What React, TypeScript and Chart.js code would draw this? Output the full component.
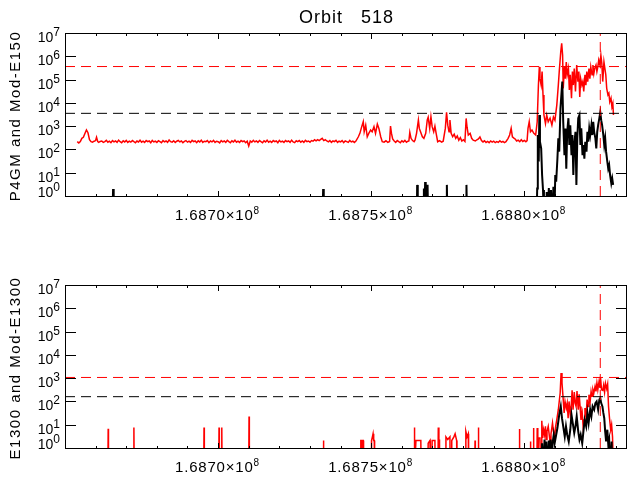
import { useEffect, useRef } from 'react';
import { Chart, registerables } from 'chart.js';

Chart.register(...registerables);

// ---------- axis data ----------
const T0 = 168650000; // seconds; time offsets below are in kiloseconds from T0
const X_MIN = 168650000;
const X_MAX = 168833200;
const Y_MIN = 1;
const Y_MAX = 1e7;

const xTickValues = [
  168660000, 168670000, 168680000, 168690000, 168700000, 168710000, 168720000, 168730000, 168740000,
  168750000, 168760000, 168770000, 168780000, 168790000, 168800000, 168810000, 168820000, 168830000,
];
const xMajorTicks = [168700000, 168750000, 168800000];
const xMajorMantissa = ['1.6870×10', '1.6875×10', '1.6880×10'];
const xMajorExponent = ['8', '8', '8'];

const yTickValues = [1, 10, 100, 1e3, 1e4, 1e5, 1e6, 1e7];
const yTickBase = '10';
const yTickExponent = ['0', '1', '2', '3', '4', '5', '6', '7'];

const plotTitle = 'Orbit   518';
const topYTitle = 'P4GM and Mod-E150';
const bottomYTitle = 'E1300 and Mod-E1300';

// ---------- thresholds ----------
const topRedLevel = 3.63e5;
const topBlackLevel = 3.55e3;
const bottomRedLevel = 1.07e3;
const bottomBlackLevel = 160;
const eventTime = 168824800;

// ---------- series: [time offset (ks), value] ----------
const topRed: [number, number][] = [
  [4.0, 215], [4.5, 190], [5.0, 220], [5.5, 300], [6.0, 330], [6.5, 480], [7.0, 680], [7.5, 520], [8.0, 260],
  [8.5, 215], [9.0, 205], [9.5, 225], [10.0, 240], [10.3, 330], [10.7, 215], [11.0, 200], [11.5, 220],
  [12, 230], [12.5, 200], [13, 215], [13.5, 245], [14, 205], [14.5, 225], [15, 195], [15.5, 240], [16, 210], [16.5, 230],
  [17, 200], [17.5, 250], [18, 215], [18.5, 195], [19, 235], [19.5, 210], [20, 245], [20.5, 200], [21, 225], [21.5, 205],
  [22, 240], [22.5, 215], [23, 195], [23.5, 230], [24, 210], [24.5, 250], [25, 205], [25.5, 225], [26, 200], [26.5, 240],
  [27, 215], [27.5, 230], [28, 195], [28.5, 245], [29, 210], [29.5, 225], [30, 200], [30.5, 235], [31, 215], [31.5, 195],
  [32, 240], [32.5, 210], [33, 230], [33.5, 200], [34, 255], [34.5, 215], [35, 205], [35.5, 235], [36, 200], [36.5, 225],
  [37, 245], [37.5, 210], [38, 230], [38.5, 195], [39, 220], [39.5, 240], [40, 205], [40.5, 225], [41, 200], [41.5, 245],
  [42, 215], [42.5, 230], [43, 195], [43.5, 235], [44, 210], [44.5, 250], [45, 200], [45.5, 225], [46, 215], [46.5, 240],
  [47, 195], [47.5, 230], [48, 210], [48.5, 245], [49, 200], [49.5, 225], [50, 215], [50.5, 190], [51, 240], [51.5, 210],
  [52, 230], [52.5, 200], [53, 245], [53.5, 215], [54, 195], [54.5, 235], [55, 210], [55.5, 250], [56, 205], [56.5, 225],
  [57, 200], [57.5, 240], [58, 215], [58.5, 230], [59, 195], [59.5, 225], [60, 140], [60.5, 230], [61, 205], [61.5, 245],
  [62, 210], [62.5, 230], [63, 200], [63.5, 240], [64, 215], [64.5, 195], [65, 235], [65.5, 210], [66, 250], [66.5, 205],
  [67, 225], [67.5, 200], [68, 240], [68.5, 215], [69, 230], [69.5, 195], [70, 245], [70.5, 210], [71, 225], [71.5, 200],
  [72, 240], [72.5, 215], [73, 230], [73.5, 200], [74, 250], [74.5, 210], [75, 195], [75.5, 235], [76, 215], [76.5, 240],
  [77, 205], [77.5, 230], [78, 200], [78.5, 245], [79, 215], [79.5, 230], [80, 205], [80.5, 240], [81, 225], [81.5, 260],
  [82, 235], [82.5, 265], [83, 240], [83.5, 270], [84, 300], [84.5, 240], [85, 260], [85.5, 230], [86, 210], [86.5, 240],
  [87, 200], [87.5, 230], [88, 215], [88.5, 245], [89, 200], [89.5, 225], [90, 210], [90.5, 240], [91, 195], [91.5, 230],
  [92, 215], [92.5, 200], [93, 245], [93.5, 210], [94, 225], [94.5, 200], [95, 230],
  [95.8, 350], [96.3, 490], [96.9, 950], [97.4, 1550], [97.7, 570], [98.2, 1100], [98.7, 350], [99.2, 490],
  [99.8, 680], [100.3, 570], [100.9, 950], [101.4, 490], [102.0, 1235], [102.5, 800], [103.1, 350],
  [103.6, 215], [104.2, 205], [104.8, 235], [105.4, 200], [106.0, 220], [106.3, 1000], [106.6, 500],
  [107.0, 280], [107.5, 230], [108, 200], [108.5, 240], [109, 215], [109.5, 195], [110, 235], [110.5, 210],
  [111, 245], [111.5, 205], [112, 225], [112.3, 230], [112.6, 540], [113.0, 300], [113.5, 240], [114.0, 215],
  [114.3, 250], [114.8, 490], [115.4, 1834], [115.7, 800], [116.1, 570], [116.7, 350], [117.2, 300],
  [117.8, 490], [118.3, 1834], [118.6, 2400], [119.1, 800], [119.5, 2500], [119.9, 950], [120.4, 570],
  [120.8, 1000], [121.2, 490], [121.7, 215], [122.3, 240], [123, 205], [123.5, 225], [124.2, 800],
  [124.6, 3900], [125.0, 1100], [125.4, 570], [125.7, 1834], [126.1, 490], [126.6, 350], [127.1, 450],
  [127.6, 300], [128.1, 380], [128.6, 250], [129.1, 320], [129.6, 230], [130.1, 260], [130.6, 220],
  [131.0, 2140], [131.3, 900], [131.7, 415], [132.3, 490], [132.8, 300], [133.3, 250], [134, 230],
  [134.5, 260], [135, 280], [135.5, 340], [136, 240], [136.5, 210], [137, 235], [137.5, 200], [138, 220],
  [138.5, 195], [139, 230], [139.5, 205], [140, 225], [140.5, 195], [141, 215], [141.5, 200], [142, 235],
  [142.5, 205], [143, 220], [143.5, 195], [144, 215], [144.7, 300], [145.2, 415], [145.7, 800], [146.1, 350],
  [146.7, 300], [147, 280], [147.5, 230], [148, 250], [148.5, 215], [149, 260], [149.5, 220], [150, 245],
  [150.5, 215], [150.9, 240], [151.2, 800], [151.6, 1540], [152.0, 570], [152.5, 680], [153.1, 490],
  [153.7, 415], [154.2, 1540], [154.6, 5.8e4], [154.9, 3.5e5], [155.1, 1.1e5], [155.5, 5.8e4], [155.8, 2.2e5],
  [156.1, 2.2e4], [156.4, 3000], [156.9, 1300], [157.3, 3000], [157.8, 1540], [158.4, 2200], [159.0, 1100],
  [159.5, 2500], [160.0, 1800], [160.6, 8000], [161.1, 5.8e4], [161.4, 2.2e5], [161.9, 1.6e6],
  [162.2, 3.6e6], [162.5, 1.1e6], [162.7, 4.2e4], [163.1, 3.5e5], [163.4, 1.1e5], [163.7, 5.7e5],
  [164.0, 1.6e5], [164.4, 3e5], [164.7, 3.6e4], [165.0, 1.6e5], [165.4, 1.6e4], [165.7, 2.2e5],
  [166.0, 5.8e4], [166.3, 3e5], [166.7, 3.1e4], [167.1, 4.2e5], [167.5, 8.2e4], [167.8, 2.2e5],
  [168.1, 1.8e4], [168.4, 1.1e5], [168.8, 5.8e4], [169.1, 8.2e4], [169.4, 3.1e4], [169.8, 1.6e5],
  [170.1, 5.8e4], [170.4, 2.2e5], [170.7, 8.2e4], [171.1, 3e5], [171.4, 1.1e5], [171.7, 3.5e5],
  [172.1, 1.6e5], [172.4, 4.2e5], [172.7, 1.8e5], [173.0, 3e5], [173.4, 4.2e5], [173.7, 2.2e5],
  [174.0, 3.5e5], [174.3, 6.9e5], [174.7, 4.2e5], [175.0, 1.1e6], [175.3, 5e5], [175.6, 8.2e4],
  [176.0, 5.7e5], [176.3, 3e5], [176.6, 1.6e5], [176.9, 4.2e4], [177.3, 2.2e4], [177.6, 2.6e4],
  [177.9, 1.1e4], [178.3, 1.6e4], [178.6, 6800], [178.9, 9600], [179.1, 3000],
];

const topBlack: [number, number][] = [
  [4, 0.1], [15.5, 0.1], [15.7, 2], [15.9, 0.1], [84.1, 0.1], [84.3, 2], [84.5, 0.1], [114.9, 0.1],
  [115.0, 3], [115.2, 0.1], [117.0, 0.1], [117.2, 2.1], [117.4, 0.1], [117.6, 4], [117.8, 0.1], [118.0, 2.1],
  [118.2, 0.1], [118.4, 3], [118.6, 0.1], [124.5, 0.1], [124.7, 3], [124.9, 0.1], [131.0, 0.1], [131.1, 3],
  [131.3, 0.1], [154.0, 0.1], [154.2, 2.1], [154.4, 415], [154.7, 30], [154.9, 3000], [155.1, 215],
  [155.5, 110], [155.8, 8], [156.1, 1.8], [156.4, 0.1], [157.1, 0.1], [157.3, 1.5], [157.6, 0.1],
  [158.0, 2.2], [158.4, 0.1], [158.7, 1.8], [159.0, 0.1], [159.5, 2.5], [159.8, 0.1], [160.1, 8],
  [160.4, 4.1], [160.8, 40], [161.1, 300], [161.4, 80], [161.8, 5800], [162.1, 2.2e4], [162.4, 8.2e4],
  [162.7, 1540], [163.1, 57], [163.4, 800], [163.7, 15], [164.0, 570], [164.4, 2200], [164.7, 155],
  [165.0, 1100], [165.4, 57], [165.7, 415], [166.0, 8], [166.3, 155], [166.7, 570], [167.0, 3],
  [167.3, 300], [167.6, 2200], [168.0, 3000], [168.3, 155], [168.6, 800], [169.0, 57], [169.3, 155],
  [169.6, 40], [169.9, 215], [170.3, 80], [170.6, 570], [170.9, 215], [171.2, 800], [171.5, 415],
  [171.9, 1100], [172.2, 415], [172.5, 1540], [172.8, 570], [173.2, 300], [173.5, 110], [173.8, 570],
  [174.1, 1100], [174.5, 2200], [174.8, 3900], [175.1, 1800], [175.4, 1100], [175.8, 415], [176.1, 155],
  [176.4, 300], [176.7, 80], [177.1, 30], [177.4, 15], [177.7, 21], [178.0, 8], [178.4, 3.5], [178.7, 5.7],
  [179.0, 3],
];

const bottomRed: [number, number][] = [
  [4, 0.1], [14.0, 0.1], [14.1, 6.7], [14.2, 0.1], [22.4, 0.1], [22.5, 7.5], [22.6, 0.1], [45.3, 0.1],
  [45.4, 7.5], [45.5, 0.1], [50.2, 0.1], [50.3, 7.5], [50.4, 0.1], [51.1, 0.1], [51.2, 7.5], [51.3, 0.1],
  [60.0, 0.1], [60.1, 22.7], [60.2, 0.1], [84.3, 0.1], [84.4, 2.1], [84.5, 0.1],
  [96.5, 0.1], [96.6, 2.1], [96.9, 2.1], [97.0, 0.1], [97.2, 2.1], [97.4, 2.1], [97.5, 0.1],
  [100.0, 0.1], [100.1, 2.1], [100.4, 3.1], [100.6, 4.1], [100.8, 2.1], [101.0, 2.1], [101.1, 0.1],
  [114.0, 0.1], [114.1, 7.5], [114.2, 0.1], [114.6, 2.1], [116.2, 2.1], [116.3, 0.1],
  [118.5, 0.1], [118.6, 1.6], [119.2, 2.1], [119.3, 0.1], [119.8, 0.1], [119.9, 2.1], [120.8, 2.1],
  [120.9, 0.1], [121.8, 0.1], [121.9, 7.5], [122.1, 0.1], [122.2, 2.3], [122.3, 0.1],
  [124.3, 0.1], [124.4, 3.0], [125.0, 2.3], [125.7, 3.0], [125.8, 0.1], [126.2, 0.1], [126.3, 2.1],
  [127.0, 3.0], [127.4, 4.1], [127.9, 2.1], [128.0, 0.1], [130.8, 0.1], [130.9, 5.2], [131.3, 3.0],
  [131.7, 4.1], [131.8, 0.1], [133.8, 0.1], [133.9, 2.1], [134.0, 0.1], [134.9, 0.1], [135.0, 7.5],
  [135.1, 0.1], [148.3, 0.1], [148.4, 6.5], [148.5, 0.1], [151.9, 0.1], [152.0, 1.9], [152.1, 0.1],
  [152.9, 0.1], [153.0, 7.2], [153.1, 0.1], [154.1, 0.1], [154.2, 7.2], [154.4, 0.1], [154.6, 2.7],
  [155.1, 2.7], [155.3, 0.1], [155.6, 0.1], [155.7, 14.9], [156.0, 2.7], [156.3, 6.1], [156.6, 3.7],
  [156.9, 8.5], [157.1, 2.3], [157.4, 5.2], [157.8, 8.5], [158.2, 3.1], [158.5, 1.5], [158.7, 4],
  [159.2, 11.8], [159.5, 5.2], [159.9, 3.1], [160.2, 8], [160.6, 16.4], [161.1, 44], [161.7, 230],
  [162.0, 1650], [162.3, 620], [162.7, 120], [163.0, 32], [163.3, 100], [163.7, 52], [164.0, 85],
  [164.3, 19], [164.6, 100], [165.0, 27], [165.3, 61], [165.6, 300], [165.9, 44], [166.3, 250],
  [166.6, 85], [166.9, 61], [167.2, 280], [167.6, 44], [167.9, 200], [168.2, 61], [168.5, 16],
  [168.9, 32], [169.2, 8.5], [169.5, 16], [169.8, 52], [170.2, 27], [170.5, 120], [170.8, 61],
  [171.1, 195], [171.5, 100], [171.8, 270], [172.1, 165], [172.4, 320], [172.7, 230], [173.1, 440],
  [173.4, 270], [173.7, 620], [174.0, 320], [174.4, 720], [174.7, 380], [174.9, 1000], [175.2, 320],
  [175.6, 300], [175.9, 500], [176.2, 250], [176.5, 600], [176.9, 350], [177.2, 550], [177.5, 60],
  [177.8, 20], [178.2, 6], [178.5, 10], [178.8, 3], [179.1, 0.1],
];

const bottomBlack: [number, number][] = [
  [4, 0.1], [155.7, 0.1], [155.8, 1.6], [156.2, 0.1], [156.6, 2.3], [156.9, 0.1], [157.2, 1.9],
  [157.6, 0.1], [158.0, 2.1], [158.3, 0.1], [158.6, 2.3], [158.9, 0.1], [159.2, 1.5], [159.6, 3.7],
  [159.9, 1.6], [160.8, 7.2], [161.4, 27], [161.9, 61], [162.3, 19], [162.7, 8.5], [163.2, 3.1],
  [163.6, 8.5], [164.0, 3.7], [164.5, 1.9], [165.0, 6.1], [165.4, 27], [165.8, 12], [166.3, 4.4],
  [166.7, 8.5], [167.1, 23], [167.6, 5.2], [168.0, 2.3], [168.4, 3.7], [168.9, 1.6], [169.3, 5.2],
  [169.7, 16], [170.2, 8.5], [170.6, 32], [171.0, 12], [171.5, 44], [171.9, 23], [172.3, 61],
  [172.8, 44], [173.2, 85], [173.6, 100], [174.1, 44], [174.5, 120], [174.8, 140], [175.1, 85],
  [175.5, 61], [175.8, 32], [176.1, 19], [176.4, 5.2], [176.7, 1.9], [177.1, 6.1], [177.4, 1.5],
  [177.7, 2.3], [178.0, 0.1], [178.5, 1.9], [178.8, 0.1],
];

// ---------- helpers ----------
const toPoints = (pairs: [number, number][]) => pairs.map(([k, v]) => ({ x: T0 + k * 1000, y: v }));

const hLine = (y: number, color: string) => ({
  data: [{ x: X_MIN, y }, { x: X_MAX, y }],
  borderColor: color,
  borderWidth: 1,
  borderDash: [10, 6],
  pointRadius: 0,
  order: 0,
});
const vLine = (x: number, color: string) => ({
  data: [{ x, y: Y_MIN }, { x, y: Y_MAX }],
  borderColor: color,
  borderWidth: 1,
  borderDash: [10, 6],
  pointRadius: 0,
  order: 0,
});

const FONT = '"Liberation Sans", Arial, sans-serif';

const idlFrame = {
  id: 'idlFrame',
  afterDraw(chart: any, _args: any, opts: any) {
    const { ctx, chartArea } = chart;
    const { left, right, top, bottom } = chartArea;
    const xs = chart.scales.x;
    const ys = chart.scales.y;
    const c = ctx as any;
    ctx.save();
    ctx.strokeStyle = '#000';
    ctx.lineWidth = 1;
    ctx.setLineDash([]);
    ctx.strokeRect(left + 0.5, top + 0.5, right - left, bottom - top);
    ctx.beginPath();
    for (const v of yTickValues) {
      const py = Math.round(ys.getPixelForValue(v)) + 0.5;
      ctx.moveTo(left, py);
      ctx.lineTo(left + 11, py);
      ctx.moveTo(right - 10, py);
      ctx.lineTo(right + 1, py);
    }
    for (const t of xTickValues) {
      const px = Math.round(xs.getPixelForValue(t)) + 0.5;
      const len = xMajorTicks.includes(t) ? 6 : 3;
      ctx.moveTo(px, bottom + 1);
      ctx.lineTo(px, bottom + 1 - len);
      ctx.moveTo(px, top);
      ctx.lineTo(px, top + len);
    }
    ctx.stroke();

    ctx.fillStyle = '#000';

    // y tick labels: 10 with raised exponent
    ctx.textBaseline = 'alphabetic';
    ctx.textAlign = 'right';
    c.letterSpacing = '0px';
    yTickValues.forEach((v, i) => {
      const py = ys.getPixelForValue(v);
      let base = Math.round(py + 9);
      if (base > bottom + 1) base = bottom + 1;
      const xr = left - 5;
      ctx.font = `12px ${FONT}`;
      const ew = ctx.measureText(yTickExponent[i]).width;
      ctx.fillText(yTickExponent[i], xr, base - 6);
      ctx.font = `14px ${FONT}`;
      ctx.fillText(yTickBase, xr - ew, base);
    });

    // x tick labels: mantissa×10 with raised exponent
    ctx.textAlign = 'left';
    xMajorTicks.forEach((t, i) => {
      const px = xs.getPixelForValue(t);
      const base = bottom + 24;
      ctx.font = `15px ${FONT}`;
      c.letterSpacing = '0.8px';
      const mw = ctx.measureText(xMajorMantissa[i]).width;
      ctx.font = `10px ${FONT}`;
      c.letterSpacing = '0px';
      const ew = ctx.measureText(xMajorExponent[i]).width;
      const x0 = px - 1 - (mw + ew) / 2;
      ctx.font = `15px ${FONT}`;
      c.letterSpacing = '0.8px';
      ctx.fillText(xMajorMantissa[i], x0, base);
      ctx.font = `10px ${FONT}`;
      c.letterSpacing = '0px';
      ctx.fillText(xMajorExponent[i], x0 + mw, base - 6);
    });

    ctx.textBaseline = 'middle';
    ctx.textAlign = 'center';
    if (opts.title) {
      ctx.font = `18px ${FONT}`;
      c.letterSpacing = '1px';
      ctx.fillText(opts.title, (left + right) / 2 + 1, 18);
    }
    if (opts.yTitle) {
      ctx.font = `15px ${FONT}`;
      c.letterSpacing = '1.5px';
      ctx.translate(16, (top + bottom) / 2 + 1.5);
      ctx.rotate(-Math.PI / 2);
      ctx.fillText(opts.yTitle, 0, 0);
    }
    ctx.restore();
  },
};

function makeConfig(
  red: [number, number][],
  black: [number, number][],
  redLevel: number,
  blackLevel: number,
  padTop: number,
  xAxisHeight: number,
  title: string,
  yTitle: string,
): any {
  return {
    type: 'line',
    data: {
      datasets: [
        hLine(redLevel, '#ff0000'),
        hLine(blackLevel, '#000000'),
        vLine(eventTime, '#ff0000'),
        {
          data: toPoints(black),
          borderColor: '#000000',
          borderWidth: 2,
          pointRadius: 0,
          tension: 0,
          order: 1,
        },
        {
          data: toPoints(red),
          borderColor: '#ff0000',
          borderWidth: 1.5,
          pointRadius: 0,
          tension: 0,
          order: 2,
        },
      ],
    },
    options: {
      responsive: false,
      animation: false,
      devicePixelRatio: 1,
      layout: { padding: { top: padTop, right: 11, left: 0, bottom: 0 } },
      plugins: {
        legend: { display: false },
        tooltip: { enabled: false },
        title: { display: false },
        idlFrame: { title, yTitle },
      },
      elements: { line: { borderJoinStyle: 'miter' } },
      scales: {
        x: {
          type: 'linear',
          min: X_MIN,
          max: X_MAX,
          grid: { display: false, drawTicks: false },
          border: { display: false },
          afterBuildTicks: (s: any) => {
            s.ticks = xTickValues.map((v) => ({ value: v }));
          },
          afterFit: (s: any) => {
            s.height = xAxisHeight;
          },
          ticks: { display: false, autoSkip: false },
        },
        y: {
          type: 'logarithmic',
          min: Y_MIN,
          max: Y_MAX,
          grid: { display: false, drawTicks: false },
          border: { display: false },
          afterBuildTicks: (s: any) => {
            s.ticks = yTickValues.map((v) => ({ value: v }));
          },
          afterFit: (s: any) => {
            s.width = 65;
          },
          ticks: { display: false, autoSkip: false },
        },
      },
    },
    plugins: [idlFrame],
  };
}

export default function App() {
  const topRef = useRef<HTMLCanvasElement>(null);
  const botRef = useRef<HTMLCanvasElement>(null);

  useEffect(() => {
    const c1 = new Chart(
      topRef.current!,
      makeConfig(topRed, topBlack, topRedLevel, topBlackLevel, 33, 44, plotTitle, topYTitle),
    );
    const c2 = new Chart(
      botRef.current!,
      makeConfig(bottomRed, bottomBlack, bottomRedLevel, bottomBlackLevel, 45, 32, '', bottomYTitle),
    );
    return () => {
      c1.destroy();
      c2.destroy();
    };
  }, []);

  return (
    <div style={{ position: 'fixed', left: 0, top: 0, width: 637, height: 480, background: '#fff' }}>
      <canvas ref={topRef} width={637} height={240} style={{ display: 'block', width: 637, height: 240 }} />
      <canvas ref={botRef} width={637} height={240} style={{ display: 'block', width: 637, height: 240 }} />
    </div>
  );
}
